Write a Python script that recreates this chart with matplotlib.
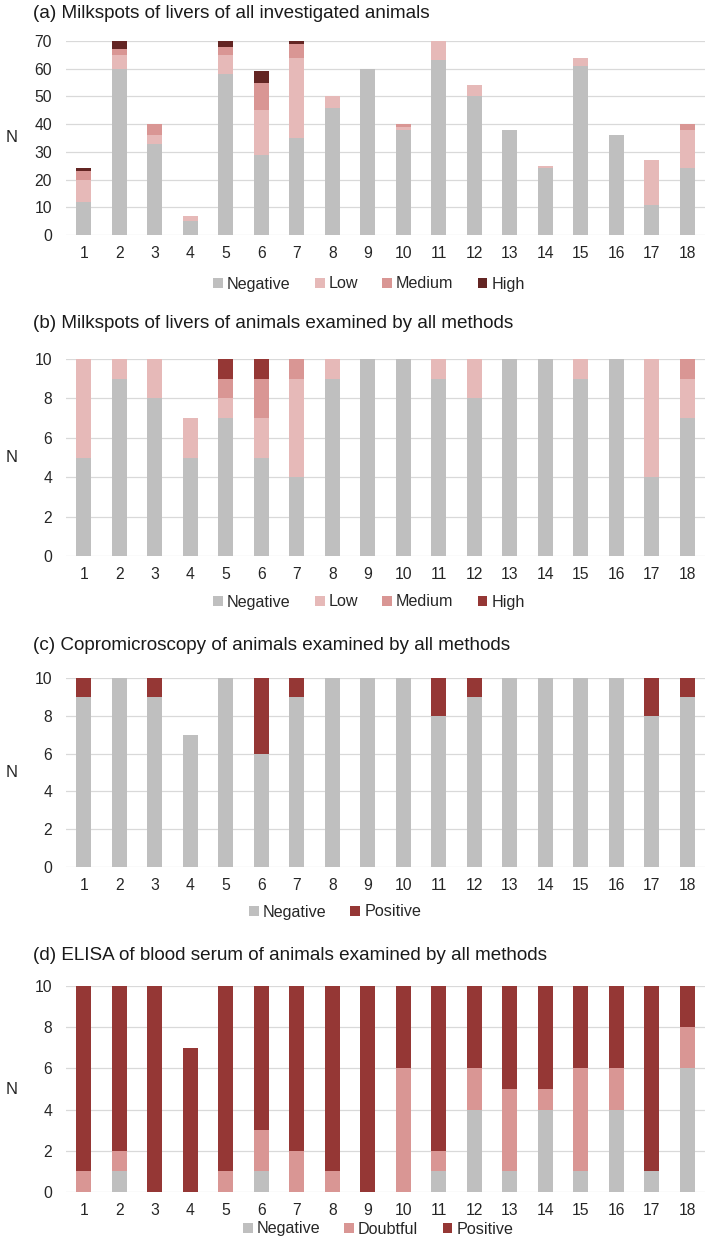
import numpy as np
import matplotlib
matplotlib.use("Agg")
import matplotlib.pyplot as plt
from matplotlib.patches import Patch

plt.rcParams['font.family'] = ['Liberation Sans', 'DejaVu Sans']

farms = [str(i) for i in range(1, 19)]

# (a) milkspots, all investigated animals
a_neg = [12, 60, 33, 5, 58, 29, 35, 46, 60, 38, 63, 50, 38, 24, 61, 36, 11, 24]
a_low = [8, 5, 3, 2, 7, 16, 29, 4, 0, 1, 7, 4, 0, 1, 3, 0, 16, 14]
a_med = [3, 2, 4, 0, 3, 10, 5, 0, 0, 1, 0, 0, 0, 0, 0, 0, 0, 2]
a_high = [1, 3, 0, 0, 2, 4, 1, 0, 0, 0, 0, 0, 0, 0, 0, 0, 0, 0]

# (b) milkspots, animals examined by all methods
b_neg = [5, 9, 8, 5, 7, 5, 4, 9, 10, 10, 9, 8, 10, 10, 9, 10, 4, 7]
b_low = [5, 1, 2, 2, 1, 2, 5, 1, 0, 0, 1, 2, 0, 0, 1, 0, 6, 2]
b_med = [0, 0, 0, 0, 1, 2, 1, 0, 0, 0, 0, 0, 0, 0, 0, 0, 0, 1]
b_high = [0, 0, 0, 0, 1, 1, 0, 0, 0, 0, 0, 0, 0, 0, 0, 0, 0, 0]

# (c) copromicroscopy
c_neg = [9, 10, 9, 7, 10, 6, 9, 10, 10, 10, 8, 9, 10, 10, 10, 10, 8, 9]
c_pos = [1, 0, 1, 0, 0, 4, 1, 0, 0, 0, 2, 1, 0, 0, 0, 0, 2, 1]

# (d) ELISA
d_neg = [0, 1, 0, 0, 0, 1, 0, 0, 0, 0, 1, 4, 1, 4, 1, 4, 1, 6]
d_doubt = [1, 1, 0, 0, 1, 2, 2, 1, 0, 6, 1, 2, 4, 1, 5, 2, 0, 2]
d_pos = [9, 8, 10, 7, 9, 7, 8, 9, 10, 4, 8, 4, 5, 5, 4, 4, 9, 2]

GRAY = '#BFBFBF'
LOW = '#E6B9B8'
MED = '#D99694'
DARK = '#632523'
RED = '#953735'

W, H = 706, 1240
fig = plt.figure(figsize=(W / 100, H / 100), dpi=100)


def px_axes(top, bottom, left=66, right=705):
    return fig.add_axes([left / W, 1 - bottom / H, (right - left) / W, (bottom - top) / H])


def stacked(ax, series, colors, ymax, step):
    x = np.arange(len(farms))
    base = np.zeros(len(farms))
    for vals, col in zip(series, colors):
        ax.bar(x, vals, bottom=base, width=0.42, color=col, zorder=3)
        base += np.array(vals)
    ax.set_xlim(-0.5, len(farms) - 0.5)
    ax.set_ylim(0, ymax)
    ax.set_yticks(np.arange(0, ymax + 1, step))
    ax.set_xticks(x)
    ax.set_xticklabels(farms)
    ax.yaxis.grid(True, color='#D9D9D9', linewidth=0.9, zorder=0)
    for s in ax.spines.values():
        s.set_visible(False)
    ax.tick_params(axis='both', length=0, labelsize=11.3, colors='#262626')
    ax.tick_params(axis='x', pad=8)
    ax.tick_params(axis='y', pad=10)


def title(text, y):
    fig.text(33 / W, 1 - y / H, text, fontsize=13.6, va='center', ha='left', color='#1a1a1a')


def ylab(top, bottom):
    fig.text(12 / W, 1 - (top + bottom) / 2 / H, 'N', fontsize=12, va='center', ha='center', color='#262626')


def legend(labels, colors, xc, y):
    handles = [Patch(facecolor=c, edgecolor='none') for c in colors]
    fig.legend(handles, labels, loc='center', bbox_to_anchor=(xc / W, 1 - y / H),
               ncol=len(labels), frameon=False, fontsize=11.6, handlelength=0.6,
               handleheight=0.6, handletextpad=0.25, columnspacing=1.5,
               labelcolor='#262626')


# (a)
ax1 = px_axes(41, 235)
stacked(ax1, [a_neg, a_low, a_med, a_high], [GRAY, LOW, MED, DARK], 70, 10)
title('(a) Milkspots of livers of all investigated animals', 14)
ylab(41, 235)
legend(['Negative', 'Low', 'Medium', 'High'], [GRAY, LOW, MED, DARK], 369, 284)

# (b)
ax2 = px_axes(359, 556)
stacked(ax2, [b_neg, b_low, b_med, b_high], [GRAY, LOW, MED, RED], 10, 2)
title('(b) Milkspots of livers of animals examined by all methods', 323)
ylab(359, 556)
legend(['Negative', 'Low', 'Medium', 'High'], [GRAY, LOW, MED, RED], 369, 602)

# (c)
ax3 = px_axes(678, 867)
stacked(ax3, [c_neg, c_pos], [GRAY, RED], 10, 2)
title('(c) Copromicroscopy of animals examined by all methods', 646)
ylab(678, 867)
legend(['Negative', 'Positive'], [GRAY, RED], 335, 912)

# (d)
ax4 = px_axes(986, 1192)
stacked(ax4, [d_neg, d_doubt, d_pos], [GRAY, MED, RED], 10, 2)
title('(d) ELISA of blood serum of animals examined by all methods', 955)
ylab(986, 1192)
legend(['Negative', 'Doubtful', 'Positive'], [GRAY, MED, RED], 378, 1229)

fig.savefig('out.png', dpi=100)
